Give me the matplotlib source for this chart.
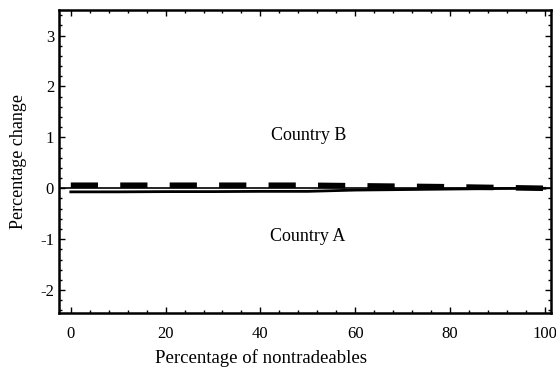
import numpy as np
import matplotlib
matplotlib.use("Agg")
import matplotlib.pyplot as plt
from matplotlib.ticker import MultipleLocator

# share of nontradeables (%)
pct = [0, 10, 20, 30, 40, 50, 60, 70, 80, 90, 100]
# percentage change
country_b = [0.06, 0.06, 0.06, 0.06, 0.06, 0.06, 0.05, 0.04, 0.03, 0.015, 0.0]
country_a = [-0.07, -0.07, -0.065, -0.065, -0.06, -0.06, -0.035, -0.025, -0.015, -0.005, 0.0]
xticks = [0, 20, 40, 60, 80, 100]
yticks = [-2, -1, 0, 1, 2, 3]

plt.rcParams['font.family'] = ['Liberation Serif', 'DejaVu Serif']
plt.rcParams['axes.unicode_minus'] = False

fig = plt.figure(figsize=(5.56, 3.74), dpi=100)
ax = fig.add_axes([0.106, 0.163, 0.885, 0.81])

# zero line
ax.axhline(0, color='black', lw=1.2)
ax.plot(pct, country_a, color='black', lw=2.0)
ax.plot(pct, country_b, color='black', lw=4.0, dashes=(4.9, 4.0))

ax.text(50.2, 1.04, 'Country B', ha='center', va='center', fontsize=13)
ax.text(49.9, -0.94, 'Country A', ha='center', va='center', fontsize=13)

ax.set_xlim(-2.5, 101.3)
ax.set_ylim(-2.45, 3.5)
ax.set_xticks(xticks)
ax.set_yticks(yticks)
ax.xaxis.set_minor_locator(MultipleLocator(4))
ax.yaxis.set_minor_locator(MultipleLocator(0.2))
ax.tick_params(which='both', direction='in', top=True, right=True, labelsize=12, width=1)
ax.tick_params(which='major', length=4)
ax.tick_params(which='minor', length=2)
ax.tick_params(axis='x', pad=9)

for s in ax.spines.values():
    s.set_linewidth(1.8)

ax.set_xlabel('Percentage of nontradeables', fontsize=13.5)
ax.xaxis.set_label_coords(0.41, -0.12)
ax.set_ylabel('Percentage change', fontsize=13)
ax.yaxis.set_label_coords(-0.065, 0.5)

fig.savefig('out.png', dpi=100)
